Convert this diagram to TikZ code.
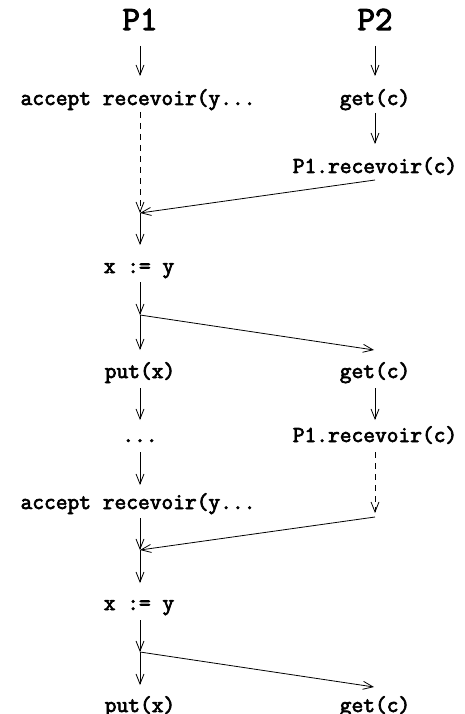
\documentclass[tikz,border=0pt]{standalone}
\usepackage{fontspec}
\setmonofont{Latin Modern Mono}[AutoFakeBold=3]
\usetikzlibrary{arrows.meta}
\begin{document}
\begin{tikzpicture}[x=1pt,y=-1pt,
  lbl/.style={font=\ttfamily\bfseries\fontsize{22.8}{26}\selectfont, anchor=base, inner sep=0pt},
  proc/.style={font=\ttfamily\bfseries\fontsize{34}{40}\selectfont, anchor=base, inner sep=0pt},
  flow/.style={-{Straight Barb[length=10pt,width=8pt]}, line width=0.8pt},
  wait/.style={flow, dash pattern=on 6pt off 5pt}]
\useasboundingbox (0,0) rectangle (464,714);

% process headers
\node[proc] (P1) at (140,30) {P1};
\node[proc] (P2) at (375,30) {P2};

% P1 statements
\node[lbl] (acc1) at (138,105) {accept recevoir(y...};
\node[lbl] (asg1) at (139,273) {x := y};
\node[lbl] (put1) at (140,378) {put(x)};
\node[lbl] (dots) at (140,442) {...};
\node[lbl] (acc2) at (138,509) {accept recevoir(y...};
\node[lbl] (asg2) at (139,610) {x := y};
\node[lbl] (put2) at (140,712) {put(x)};

% P2 statements
\node[lbl] (get1) at (375,105) {get(c)};
\node[lbl] (rcv1) at (375,173) {P1.recevoir(c)};
\node[lbl] (get2) at (375,378) {get(c)};
\node[lbl] (rcv2) at (375,442) {P1.recevoir(c)};
\node[lbl] (get3) at (375,712) {get(c)};

% P1 control points
\coordinate (a0) at (140,46);  \coordinate (a1) at (140,76);
\coordinate (a2) at (140,112); \coordinate (a3) at (140,213);
\coordinate (a4) at (140,245); \coordinate (a5) at (140,282);
\coordinate (a6) at (140,315); \coordinate (a7) at (140,350);
\coordinate (a8) at (140,388); \coordinate (a9) at (140,420);
\coordinate (b0) at (140,452); \coordinate (b1) at (140,485);
\coordinate (b2) at (140,518); \coordinate (b3) at (140,550);
\coordinate (b4) at (140,583); \coordinate (b5) at (140,620);
\coordinate (b6) at (140,652); \coordinate (b7) at (140,685);

% P2 control points
\coordinate (c0) at (375,46);  \coordinate (c1) at (375,76);
\coordinate (c2) at (375,113); \coordinate (c3) at (375,144);
\coordinate (c4) at (375,180); \coordinate (c5) at (374,350);
\coordinate (c6) at (375,388); \coordinate (c7) at (375,420);
\coordinate (c8) at (375,452); \coordinate (c9) at (375,513);
\coordinate (d0) at (375,517); \coordinate (d1) at (374,687);

% P1 flow
\draw[flow] (a0) -- (a1);
\draw[wait] (a2) -- (a3);
\draw[flow] (a3) -- (a4);
\draw[flow] (a5) -- (a6);
\draw[flow] (a6) -- (a7);
\draw[flow] (a8) -- (a9);
\draw[flow] (b0) -- (b1);
\draw[flow] (b2) -- (b3);
\draw[flow] (b3) -- (b4);
\draw[flow] (b5) -- (b6);
\draw[flow] (b6) -- (b7);

% P2 flow
\draw[flow] (c0) -- (c1);
\draw[flow] (c2) -- (c3);
\draw[flow] (c6) -- (c7);
\draw[wait] (c8) -- (c9);

% messages between the processes
\draw[flow] (c4) -- (a3);
\draw[flow] (a6) -- (c5);
\draw[flow] (d0) -- (b3);
\draw[flow] (b6) -- (d1);
\end{tikzpicture}
\end{document}
